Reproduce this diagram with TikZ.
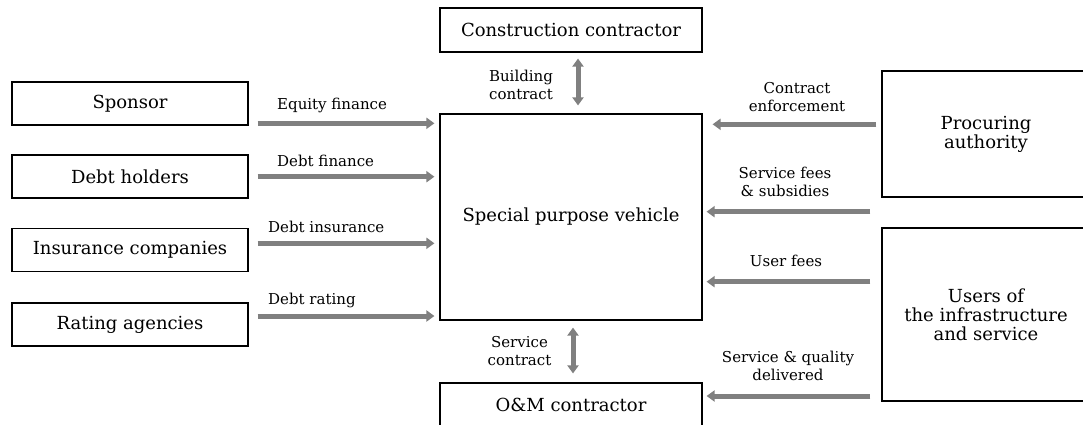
\documentclass[tikz,border=0pt]{standalone}
\usepackage{fontspec}
\setmainfont{DejaVu Serif}
\usetikzlibrary{arrows.meta,calc}
\definecolor{arrgray}{RGB}{128,128,128}
\newcommand{\boxfont}{\fontsize{18}{19}\selectfont}
\newcommand{\lblfont}{\fontsize{15}{18}\selectfont}
\begin{document}
\begin{tikzpicture}[x=1pt,y=-1pt,
  box/.style={draw, line width=1.2pt, inner sep=0pt, font=\boxfont, align=center},
  lbl/.style={font=\lblfont, align=center, inner sep=0pt},
  flow/.style={draw=arrgray, line width=5pt, -{Triangle[length=8pt,width=11pt]}},
  bflow/.style={draw=arrgray, line width=5pt, {Triangle[length=8pt,width=11pt]}-{Triangle[length=8pt,width=11pt]}}]
\clip (0,0) rectangle (1083,425);
\fill[white] (0,0) rectangle (1083,425);
% central column
\node[box, minimum width=262pt, minimum height=44pt] (cc) at (571,30) {Construction contractor};
\node[box, minimum width=262pt, minimum height=206pt] (spv) at (571,217) {Special purpose vehicle};
\node[box, minimum width=262pt, minimum height=44pt] (om) at (571,405) {O\&M contractor};
% left column
\node[box, minimum width=236pt, minimum height=43pt] (sponsor) at (130,103.5) {Sponsor};
\node[box, minimum width=236pt, minimum height=43pt] (debt) at (130,176.5) {Debt holders};
\node[box, minimum width=236pt, minimum height=43pt] (ins) at (130,250) {Insurance companies};
\node[box, minimum width=236pt, minimum height=43pt] (rating) at (130,324.5) {Rating agencies};
% right column
\node[box, minimum width=208pt, minimum height=126pt] (proc) at (986,134) {Procuring\\authority};
\node[box, minimum width=208pt, minimum height=173pt] (users) at (986,314.5) {Users of\\the infrastructure\\and service};
% arrow rows
\coordinate (r1) at (0,123.3);
\coordinate (r2) at (0,176.7);
\coordinate (r3) at (0,243.3);
\coordinate (r4) at (0,316);
\coordinate (q1) at (0,124.3);
\coordinate (q2) at (0,211.7);
\coordinate (q3) at (0,281.7);
\coordinate (q4) at (0,396);
% left arrows
\draw[flow] ($(sponsor.east|-r1)+(9,0)$) -- ($(spv.west|-r1)+(-5,0)$);
\draw[flow] ($(debt.east|-r2)+(9,0)$) -- ($(spv.west|-r2)+(-5,0)$);
\draw[flow] ($(ins.east|-r3)+(9,0)$) -- ($(spv.west|-r3)+(-5,0)$);
\draw[flow] ($(rating.east|-r4)+(9,0)$) -- ($(spv.west|-r4)+(-5,0)$);
% right arrows
\draw[flow] ($(proc.west|-q1)+(-5,0)$) -- ($(spv.east|-q1)+(10,0)$);
\draw[flow] ($(proc.west|-q2)+(-11,0)$) -- ($(spv.east|-q2)+(4,0)$);
\draw[flow] ($(users.west|-q3)+(-11,0)$) -- ($(spv.east|-q3)+(4,0)$);
\draw[flow] ($(users.west|-q4)+(-11,0)$) -- ($(om.east|-q4)+(4,0)$);
% vertical double arrows
\draw[bflow] ($(cc.south)+(7,6)$) -- ($(spv.north)+(7,-8)$);
\draw[bflow] ($(spv.south)+(2,7)$) -- ($(om.north)+(2,-9)$);
% labels
\node[lbl, anchor=base west] (l1) at (277,110) {Equity finance};
\node[lbl, anchor=base west] (l2) at (277,166) {Debt finance};
\node[lbl, anchor=base west] (l3) at (268,232.5) {Debt insurance};
\node[lbl, anchor=base west] (l4) at (268,304) {Debt rating};
\node[lbl, anchor=base] (l5) at (797,111.7) {Contract\\enforcement};
\node[lbl, anchor=base] (l6) at (785,196.7) {Service fees\\\& subsidies};
\node[lbl, anchor=base] (l7) at (786,266.7) {User fees};
\node[lbl, anchor=base] (l8) at (788,380) {Service \& quality\\delivered};
\node[lbl, anchor=base] (l9) at (521,99.3) {Building\\contract};
\node[lbl, anchor=base] (l10) at (519.5,365) {Service\\contract};
\end{tikzpicture}
\end{document}
